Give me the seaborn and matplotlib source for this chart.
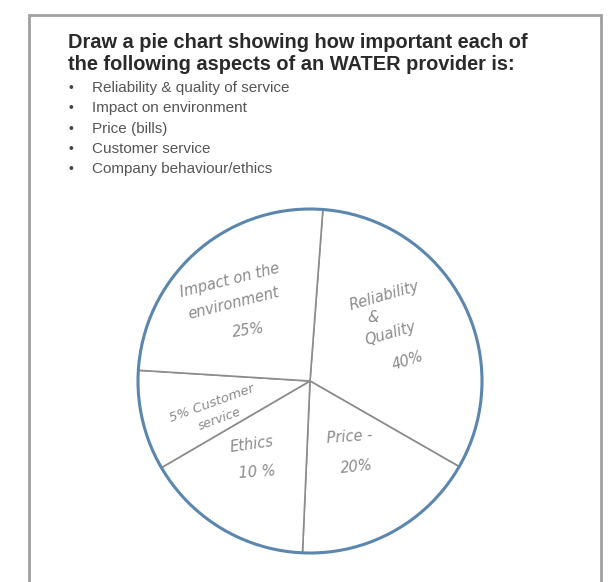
import matplotlib
matplotlib.use('Agg')
import matplotlib.pyplot as plt
from matplotlib.patches import Circle, Rectangle
import seaborn as sns

sns.set_style('white')
plt.rcParams['font.family'] = ['Liberation Sans', 'DejaVu Sans']

# worksheet text
title_lines = ['Draw a pie chart showing how important each of',
               'the following aspects of an WATER provider is:']
bullets = ['Reliability & quality of service', 'Impact on environment',
           'Price (bills)', 'Customer service', 'Company behaviour/ethics']

# hand-drawn pie (clockwise from the top line)
aspects = ['Reliability & Quality', 'Price', 'Ethics', 'Customer service', 'Impact on the environment']
written_pct = [40, 20, 10, 5, 25]
drawn_share = [32.1, 17.4, 15.9, 9.4, 25.2]

W, H = 613, 582
fig = plt.figure(figsize=(W / 100, H / 100), dpi=100)
ax = fig.add_axes([0, 0, 1, 1])

def py(y):
    # pixel row (top-down) -> data y
    return H - y

cx, cy, r = 310, py(381), 172
ax.pie(drawn_share, startangle=85.7, counterclock=False, center=(cx, cy), radius=r,
       colors=['white'] * len(drawn_share),
       wedgeprops=dict(edgecolor='#8c8c8c', linewidth=1.2))
ax.add_patch(Circle((cx, cy), r, fill=False, edgecolor='#5b86ad', linewidth=2.2, zorder=5))

ax.set_xlim(0, W); ax.set_ylim(0, H); ax.set_aspect('equal'); ax.axis('off')

# worksheet frame
ax.add_patch(Rectangle((29, -5), 572, py(15) + 5, fill=False, edgecolor='#a0a0a0', linewidth=2))

for i, t in enumerate(title_lines):
    ax.text(68, py(43 + 22 * i), t, fontsize=14.4, fontweight='bold', color='#2a2a2a', va='center')
for i, b in enumerate(bullets):
    y = py(88 + 20.3 * i)
    ax.text(71, y, '•', fontsize=10, color='#444', va='center', ha='center')
    ax.text(92, y, b, fontsize=11, color='#555', va='center')

# handwritten labels
hand = dict(color='#8a8a8a', fontsize=10.5, style='italic', ha='center', va='center',
            family='DejaVu Sans', fontweight='light')
p = written_pct
ax.text(230, py(280), 'Impact on the', rotation=14, **hand)
ax.text(234, py(303), 'environment', rotation=14, **hand)
ax.text(248, py(330), f'{p[4]}%', rotation=8, **hand)
ax.text(384, py(296), 'Reliability', rotation=16, **hand)
ax.text(373, py(317), '&', **hand)
ax.text(391, py(334), 'Quality', rotation=16, **hand)
ax.text(408, py(361), f'{p[0]}%', rotation=18, **hand)
ax.text(212, py(403), f'{p[3]}% Customer', rotation=20, fontsize=9.5,
        **{k: v for k, v in hand.items() if k != 'fontsize'})
ax.text(220, py(419), 'service', rotation=20, fontsize=9,
        **{k: v for k, v in hand.items() if k != 'fontsize'})
ax.text(252, py(444), 'Ethics', rotation=8, **hand)
ax.text(257, py(472), f'{p[2]} %', rotation=4, **hand)
ax.text(350, py(437), 'Price -', rotation=4, **hand)
ax.text(357, py(467), f'{p[1]}%', rotation=6, **hand)

plt.savefig('out.png', dpi=100)
plt.close()
